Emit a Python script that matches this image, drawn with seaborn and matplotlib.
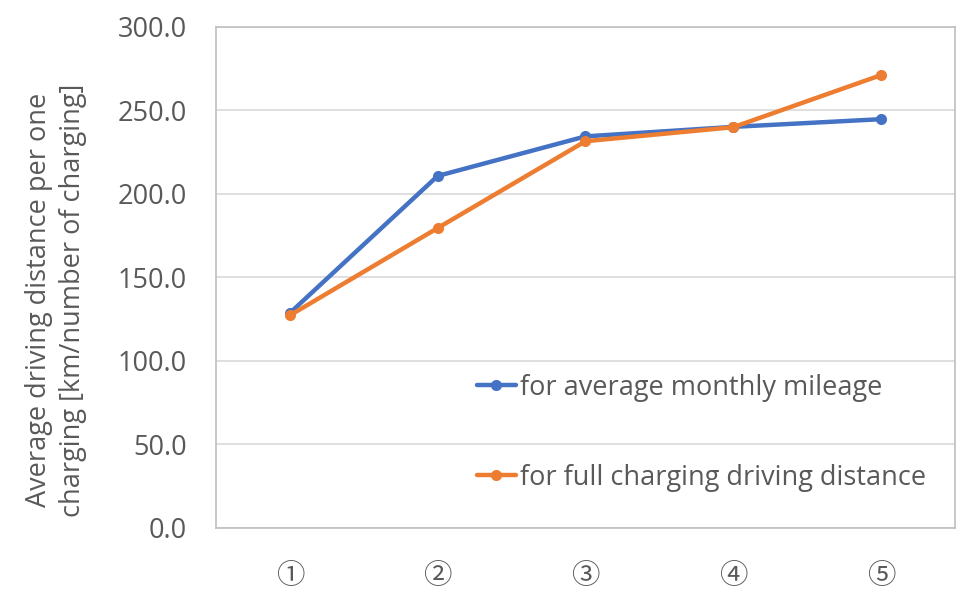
import matplotlib
matplotlib.use("Agg")
import matplotlib.pyplot as plt
import seaborn as sns
import pandas as pd

# Data
categories = ["①", "②", "③", "④", "⑤"]
monthly_mileage = [128.7, 210.8, 234.5, 240.2, 244.8]
full_charging = [127.3, 179.6, 231.6, 240.0, 271.2]
series_names = ["for average monthly mileage", "for full charging driving distance"]
y_ticks = [0, 50, 100, 150, 200, 250, 300]

sns.set_theme(style="white")
plt.rcParams['font.family'] = ['Open Sans', 'Noto Sans CJK KR', 'DejaVu Sans']

df = pd.DataFrame({
    "case": categories * 2,
    "distance": monthly_mileage + full_charging,
    "series": [series_names[0]] * len(categories) + [series_names[1]] * len(categories),
})

text_color = "#595959"
fs = 19.5

fig = plt.figure(figsize=(9.77, 6.08), dpi=100)
ax = fig.add_axes([0.221, 0.1316, 0.7565, 0.824])

sns.lineplot(data=df, x="case", y="distance", hue="series", sort=False,
             palette=["#4472C4", "#ED7D31"], marker="o", markersize=8,
             markeredgewidth=0, linewidth=3.2, ax=ax)

ax.set_xlim(-0.5, len(categories) - 0.5)
ax.set_ylim(0, 300)
ax.set_yticks(y_ticks)
ax.set_yticklabels([f"{v:.1f}" for v in y_ticks])
ax.yaxis.grid(True, color="#D9D9D9", linewidth=1.2)
ax.set_axisbelow(True)
for sp in ax.spines.values():
    sp.set_color("#BFBFBF")
    sp.set_linewidth(1.2)

ax.tick_params(axis="y", length=0, pad=21, labelsize=fs, labelcolor=text_color)
ax.tick_params(axis="x", length=0, pad=25, labelsize=20.5, labelcolor=text_color)
ax.set_xlabel("")
ax.set_ylabel("Average driving distance per one\ncharging [km/number of charging]",
              fontsize=fs, color=text_color, labelpad=22, linespacing=1.3)
ax.yaxis.label.set_y(0.455)

handles, labels = ax.get_legend_handles_labels()
ax.legend(handles, labels, loc="center left", bbox_to_anchor=(0.32, 0.19),
          frameon=False, fontsize=fs, labelcolor=text_color,
          handlelength=1.45, handletextpad=0.15, labelspacing=2.3)

fig.savefig("out.png", dpi=100)
